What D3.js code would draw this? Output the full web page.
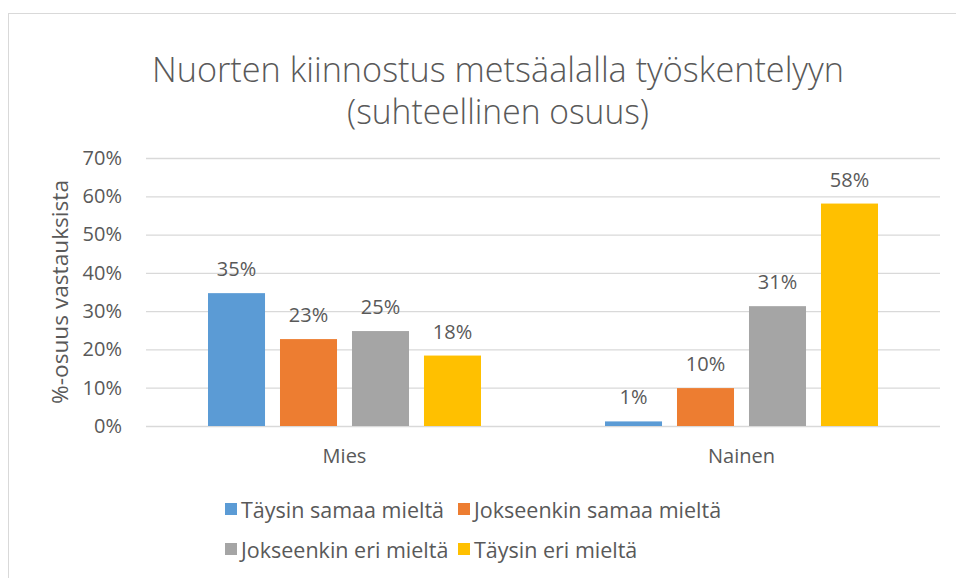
<!DOCTYPE html>
<html>
<head>
<meta charset="utf-8">
<script src="https://cdn.jsdelivr.net/npm/d3@7"></script>
<style>
    body { margin: 0; background: #fff; }
    svg text { font-family: "Open Sans", "Noto Sans", sans-serif; fill: #595959; }
</style>
</head>
<body>
<svg id="chart"></svg>
<script>
// data
const categories = ["Mies", "Nainen"];
const seriesNames = ["Täysin samaa mieltä", "Jokseenkin samaa mieltä", "Jokseenkin eri mieltä", "Täysin eri mieltä"];
const valuesMies = [34.7, 22.7, 24.8, 18.4];
const valuesNainen = [1.2, 9.9, 31.3, 58.1];
const labelsMies = ["35%", "23%", "25%", "18%"];
const labelsNainen = ["1%", "10%", "31%", "58%"];
const yTicks = [0, 10, 20, 30, 40, 50, 60, 70];
const colors = ["#5b9bd5", "#ed7d31", "#a5a5a5", "#ffc000"];

const width = 956, height = 578;
const margin = {top: 158, right: 16, bottom: 152, left: 146};

const svg = d3.select("#chart")
    .attr("width", width)
    .attr("height", height);

// chart area border
svg.append("rect")
    .attr("x", 8.5).attr("y", 13.5)
    .attr("width", 960).attr("height", 600)
    .attr("fill", "none")
    .attr("stroke", "#d9d9d9");

// title
let title = svg.append("text")
    .attr("text-anchor", "middle")
    .style("font-size", "34px")
    .style("font-weight", 300);
title.append("tspan").attr("x", 498).attr("y", 82)
    .attr("textLength", 692).attr("lengthAdjust", "spacingAndGlyphs")
    .text("Nuorten kiinnostus metsäalalla työskentelyyn");
title.append("tspan").attr("x", 498).attr("y", 124)
    .attr("textLength", 302).attr("lengthAdjust", "spacingAndGlyphs")
    .text("(suhteellinen osuus)");

let x0 = d3.scaleBand()
    .domain(categories)
    .range([margin.left, width - margin.right]);

let x1 = d3.scaleBand()
    .domain(d3.range(seriesNames.length))
    .range([0, 273])
    .paddingInner(0.208);

let y = d3.scaleLinear()
    .domain([0, 70])
    .range([height - margin.bottom, margin.top]);

// gridlines + y labels
let yAxis = d3.axisLeft(y)
    .tickValues(yTicks)
    .tickSize(-(width - margin.right - margin.left))
    .tickPadding(24)
    .tickFormat(d => d + "%");

svg.append("g")
    .attr("class", "yAxis")
    .attr("transform", `translate(${margin.left},0)`)
    .call(yAxis)
    .call(g => g.select(".domain").remove())
    .call(g => g.selectAll("line").attr("stroke", "#d9d9d9").attr("stroke-width", 1.3))
    .call(g => g.selectAll("text").style("font-size", "20px").attr("fill", "#595959"));

// axis title
svg.append("text")
    .attr("transform", `translate(68,${y(35)}) rotate(-90)`)
    .attr("text-anchor", "middle")
    .style("font-size", "21px")
    .attr("textLength", 224).attr("lengthAdjust", "spacingAndGlyphs")
    .text("%-osuus vastauksista");

// bars
let data = [
    {cat: "Mies", values: valuesMies, labels: labelsMies},
    {cat: "Nainen", values: valuesNainen, labels: labelsNainen}
];

let groups = svg.selectAll("g.bars")
    .data(data)
    .enter()
        .append("g")
        .attr("class", "bars")
        .attr("transform", d => `translate(${x0(d.cat) + (x0.bandwidth() - 273) / 2},0)`);

groups.selectAll("rect")
    .data(d => d.values)
    .enter()
        .append("rect")
        .attr("x", (d, i) => x1(i))
        .attr("y", d => y(d))
        .attr("width", x1.bandwidth())
        .attr("height", d => y(0) - y(d))
        .style("fill", (d, i) => colors[i]);

groups.selectAll("text")
    .data(d => d.values.map((v, i) => ({v: v, label: d.labels[i]})))
    .enter()
        .append("text")
        .attr("x", (d, i) => x1(i) + x1.bandwidth() / 2)
        .attr("y", d => y(d.v) - 17)
        .attr("text-anchor", "middle")
        .style("font-size", "20px")
        .text(d => d.label);

// category labels
svg.selectAll("text.cat")
    .data(categories)
    .enter()
        .append("text")
        .attr("class", "cat")
        .attr("x", d => x0(d) + x0.bandwidth() / 2)
        .attr("y", y(0) + 37)
        .attr("text-anchor", "middle")
        .style("font-size", "20px")
        .text(d => d);

// legend
let legendPos = [[225, 510], [458, 510], [225, 550], [458, 550]];
let legend = svg.selectAll("g.legend")
    .data(seriesNames)
    .enter()
        .append("g")
        .attr("class", "legend")
        .attr("transform", (d, i) => `translate(${legendPos[i][0]},${legendPos[i][1]})`);

legend.append("rect")
    .attr("x", 0).attr("y", -7)
    .attr("width", 12).attr("height", 12)
    .style("fill", (d, i) => colors[i]);

legend.append("text")
    .attr("x", 16).attr("y", 8)
    .style("font-size", "21.5px")
    .text(d => d);
</script>
</body>
</html>
